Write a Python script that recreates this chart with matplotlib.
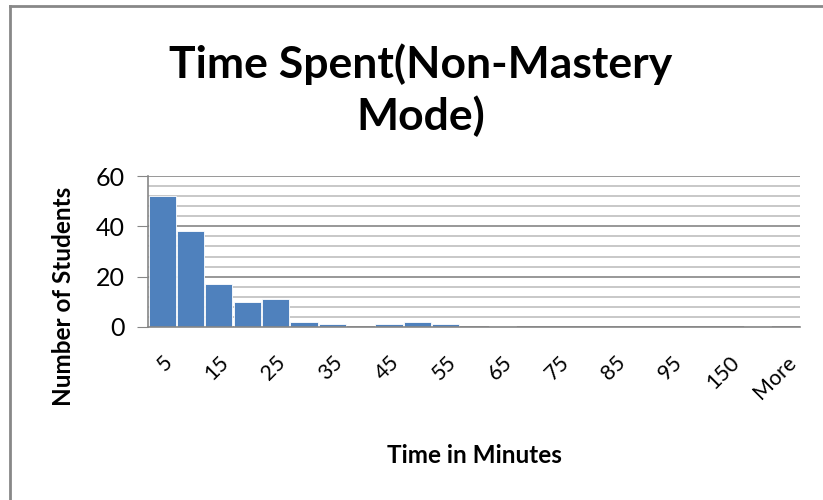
import numpy as np
import matplotlib
matplotlib.use("Agg")
import matplotlib.pyplot as plt
from matplotlib.lines import Line2D

# Histogram bins (Excel style) and counts
bins = ['5', '10', '15', '20', '25', '30', '35', '40', '45', '50', '55', '60',
        '65', '70', '75', '80', '85', '90', '95', '100', '150', '200', 'More']
counts = [52, 38, 17, 10, 11, 2, 1, 0, 1, 2, 1, 0,
          0.3, 0, 0, 0, 0, 0, 0, 0, 0, 0.3, 0]

plt.rcParams['font.family'] = ['Lato', 'DejaVu Sans']

fig = plt.figure(figsize=(8.23, 5.0), dpi=100)
ax = fig.add_axes([148 / 823, 1 - 327 / 500, 652 / 823, 151 / 500])

x = np.arange(len(bins))
vals = np.array(counts, dtype=float)
nz = vals > 0
ax.bar(x[nz], vals[nz], width=0.96, color='#4F81BD', edgecolor='white',
       linewidth=0.6, zorder=3)

ax.set_xlim(-0.5, len(bins) - 0.5)
ax.set_ylim(0, 60)
ax.set_yticks([0, 20, 40, 60])
ax.set_yticks(np.arange(0, 61, 4), minor=True)
ax.tick_params(axis='y', which='major', length=8, color='#868686',
               labelsize=18, pad=9)
ax.tick_params(axis='y', which='minor', length=0)
ax.grid(axis='y', which='major', color='#868686', linewidth=1.2, zorder=0)
ax.grid(axis='y', which='minor', color='#bfbfbf', linewidth=1.2, zorder=0)

ax.set_xticks(x[::2])
ax.set_xticklabels(bins[::2], rotation=45, ha='right', va='top',
                   rotation_mode='anchor', fontsize=15.5)
ax.tick_params(axis='x', length=0, pad=18)

for s in ['top', 'right']:
    ax.spines[s].set_visible(False)
ax.spines['left'].set_color('#868686')
ax.spines['left'].set_linewidth(1.2)
ax.spines['bottom'].set_color('#868686')
ax.spines['bottom'].set_linewidth(1.2)
ax.spines['bottom'].set_zorder(4)

ax.set_ylabel('Number of Students', fontsize=17.5, fontweight='bold')
ax.yaxis.set_label_coords(-0.112, 0.2)
ax.set_xlabel('Time in Minutes', fontsize=17.5, fontweight='bold', labelpad=30)

fig.text(0.511, 1 - 130 / 500, 'Time Spent(Non-Mastery\nMode)', ha='center',
         va='baseline', fontsize=32, fontweight='bold', linespacing=1.3)

# chart frame (top and left edges visible)
fig.add_artist(Line2D([9.5 / 823, 9.5 / 823], [0, 1 - 6 / 500],
                      transform=fig.transFigure, color='#888888', linewidth=2))
fig.add_artist(Line2D([9.5 / 823, 1], [1 - 6 / 500, 1 - 6 / 500],
                      transform=fig.transFigure, color='#888888', linewidth=2))

fig.savefig('out.png', dpi=100)
